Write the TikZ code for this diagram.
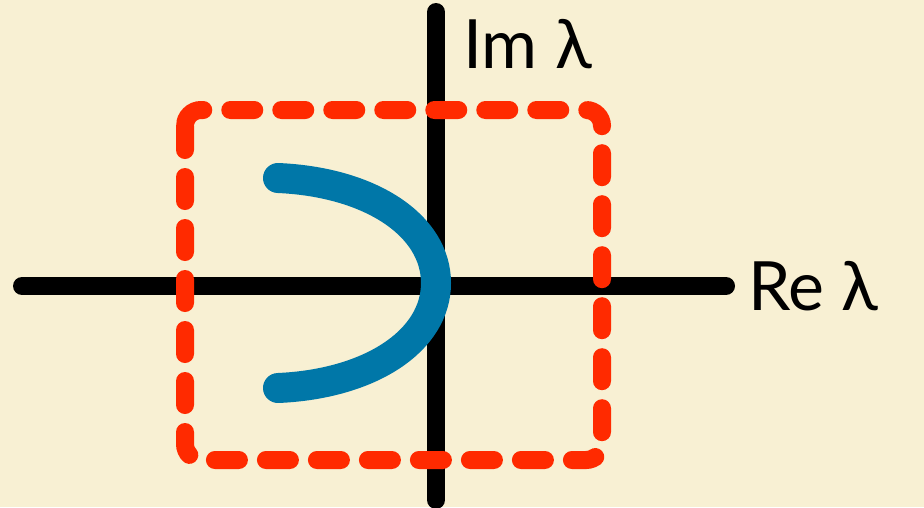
\documentclass[tikz,border=0pt]{standalone}
\usepackage{fontspec}
\setmainfont{Lato}
\usetikzlibrary{positioning}
\definecolor{cBG}{HTML}{F8F0D3}
\definecolor{cRED}{HTML}{FF2A00}
\definecolor{cBLU}{HTML}{0077A8}

\begin{document}
\begin{tikzpicture}[x=1pt, y=-1pt, line cap=round,
  axis/.style={line width=18pt, black},
  region/.style={line width=18pt, cRED, dash pattern=on 24pt off 27pt, rounded corners=16pt},
  spectrum/.style={line width=30pt, cBLU},
  axlabel/.style={font=\fontsize{68}{80}\selectfont, anchor=base west, inner sep=0pt}]
\fill[cBG] (0,0) rectangle (924,507);
\useasboundingbox (0,0) rectangle (924,507);
% axes
\coordinate (xl) at (22,286);
\coordinate (xr) at (726,286);
\coordinate (yt) at (436,12);
\coordinate (yb) at (436,500);
\draw[axis] (xl) -- (xr);
\draw[axis] (yb) -- (yt);
\node[axlabel] (re) at (748,310) {Re λ};
\node[axlabel] (im) at (463,68) {Im λ};
% dashed box
\draw[region] (185,110) rectangle (602,460);
% spectrum curve
\coordinate (top) at (278,178);
\coordinate (tip) at (436,283);
\coordinate (bot) at (278,388);
\draw[spectrum] (top) .. controls (370,182) and (436,225) .. (tip)
  .. controls (436,341) and (370,384) .. (bot);
\end{tikzpicture}
\end{document}
